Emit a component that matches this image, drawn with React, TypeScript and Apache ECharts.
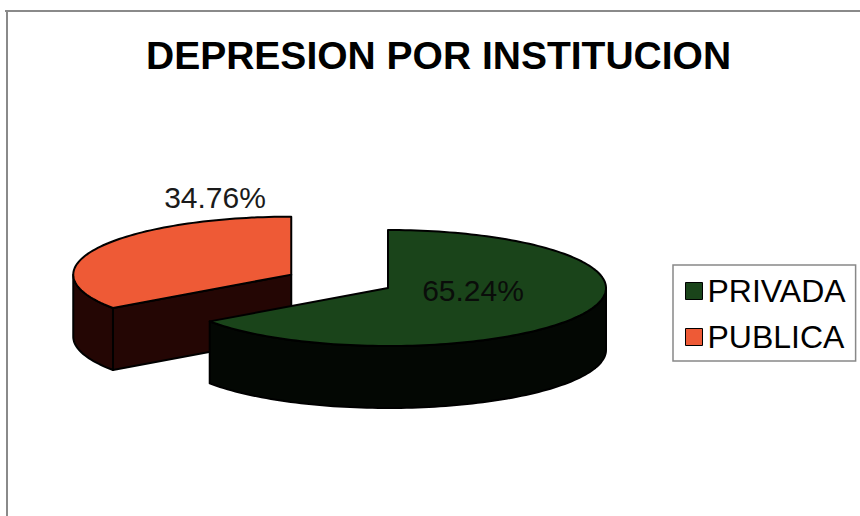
import React, { useEffect, useRef } from "react";
import * as echarts from "echarts";

// ---- data ----
const CATEGORIES = ["PRIVADA", "PUBLICA"];
const VALUES = [65.24, 34.76];
const TITLE = "DEPRESION POR INSTITUCION";

// ---- styles / layout ----
const FACE_COLORS = ["#1a441a", "#ee5a36"];
const SIDE_COLORS = ["#030703", "#240604"];
const LABEL_COLORS = ["#0a0d0a", "#1a1a1a"];
const EXPLODE = [0, 0.5];
const LABEL_POS = [
  [473, 290],
  [215, 197],
];
const CX = 388;
const CY = 288;
const RX = 218;
const RY = 58;
const DEPTH = 62;
const FONT = "'Liberation Sans', Arial, Helvetica, sans-serif";

function renderSlice(i: number) {
  return function (params: any, api: any) {
    const total = VALUES.reduce((a, b) => a + b, 0);
    let cum = 0;
    for (let k = 0; k < i; k++) cum += VALUES[k];
    const v = api.value(0);
    const start = (cum / total) * Math.PI * 2;
    const end = ((cum + v) / total) * Math.PI * 2;
    const mid = (start + end) / 2;
    const cx = CX + EXPLODE[i] * RX * Math.sin(mid);
    const cy = CY - EXPLODE[i] * RY * Math.cos(mid);
    const pt = (a: number, dz: number) => [cx + RX * Math.sin(a), cy - RY * Math.cos(a) + dz];
    const arc = (a0: number, a1: number, dz: number) => {
      const n = Math.max(2, Math.ceil(Math.abs(a1 - a0) / (Math.PI / 120)));
      const out: number[][] = [];
      for (let j = 0; j <= n; j++) out.push(pt(a0 + ((a1 - a0) * j) / n, dz));
      return out;
    };
    const stroke = { stroke: "#000", lineWidth: 2, lineJoin: "round" };
    const children: any[] = [];
    // cut face at start
    if (Math.sin(start) < -1e-6) {
      const p = pt(start, 0);
      children.push({
        type: "polygon",
        shape: { points: [[cx, cy], p, [p[0], p[1] + DEPTH], [cx, cy + DEPTH]] },
        style: { fill: SIDE_COLORS[i], ...stroke },
      });
    }
    // cut face at end
    if (Math.sin(end) > 1e-6) {
      const p = pt(end, 0);
      children.push({
        type: "polygon",
        shape: { points: [[cx, cy], p, [p[0], p[1] + DEPTH], [cx, cy + DEPTH]] },
        style: { fill: SIDE_COLORS[i], ...stroke },
      });
    }
    // outer wall (front half)
    const s = Math.max(start, Math.PI / 2);
    const e = Math.min(end, (Math.PI * 3) / 2);
    if (e > s) {
      const pts = arc(s, e, 0).concat(arc(e, s, DEPTH));
      children.push({
        type: "polygon",
        shape: { points: pts },
        style: { fill: SIDE_COLORS[i], ...stroke },
      });
    }
    // top face
    children.push({
      type: "polygon",
      shape: { points: [[cx, cy]].concat(arc(start, end, 0)) },
      style: { fill: FACE_COLORS[i], ...stroke },
    });
    // label
    children.push({
      type: "text",
      x: LABEL_POS[i][0],
      y: LABEL_POS[i][1],
      style: {
        text: ((v / total) * 100).toFixed(2) + "%",
        fill: LABEL_COLORS[i],
        fontSize: 30,
        fontFamily: FONT,
        align: "center",
        verticalAlign: "middle",
      },
    });
    return { type: "group", children };
  };
}

export default function App() {
  const ref = useRef<HTMLDivElement>(null);
  useEffect(() => {
    if (!ref.current) return;
    const chart = echarts.init(ref.current, null, { renderer: "svg" });
    chart.setOption({
      animation: false,
      backgroundColor: "#fff",
      title: {
        text: TITLE,
        left: 146,
        top: 36,
        padding: 0,
        textStyle: { fontSize: 39, fontWeight: "bold", fontFamily: FONT, color: "#000" },
      },
      legend: {
        orient: "vertical",
        left: 673,
        top: 265,
        data: CATEGORIES,
        icon: "rect",
        itemWidth: 17,
        itemHeight: 17,
        itemGap: 14,
        padding: [10, 10, 8, 12],
        borderColor: "#888",
        borderWidth: 1.5,
        itemStyle: { borderColor: "#000", borderWidth: 1 },
        textStyle: { fontSize: 32, fontFamily: FONT, color: "#000", lineHeight: 32 },
        selectedMode: false,
      },
      graphic: [
        { type: "line", shape: { x1: 5, y1: 11, x2: 860, y2: 11 }, style: { stroke: "#8a8a8a", lineWidth: 2 } },
        { type: "line", shape: { x1: 7, y1: 10, x2: 7, y2: 516 }, style: { stroke: "#8a8a8a", lineWidth: 2 } },
      ],
      series: CATEGORIES.map((name, i) => ({
        type: "custom",
        name,
        coordinateSystem: "none",
        z: i === 0 ? 3 : 2,
        itemStyle: { color: FACE_COLORS[i] },
        renderItem: renderSlice(i),
        data: [[VALUES[i]]],
      })),
    });
    return () => chart.dispose();
  }, []);
  return (
    <div
      ref={ref}
      style={{ position: "fixed", left: 0, top: 0, width: 860, height: 516 }}
    />
  );
}
